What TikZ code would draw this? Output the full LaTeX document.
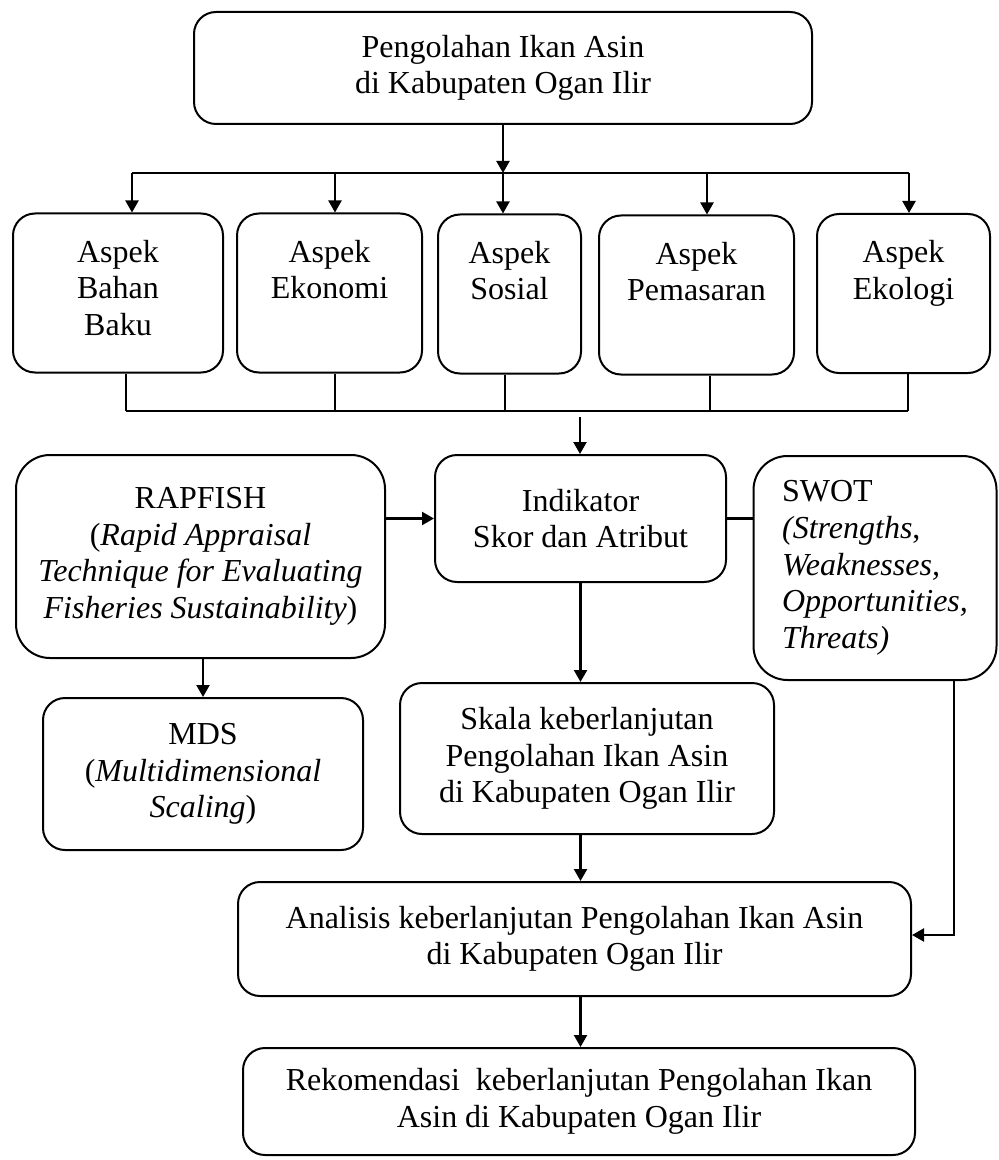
\documentclass[tikz,border=0pt]{standalone}
\usepackage{fontspec}
\setmainfont{Liberation Serif}
\usetikzlibrary{arrows.meta}

\begin{document}
\begin{tikzpicture}[x=0.5pt,y=-0.5pt,->,>={Triangle[length=6pt,width=6.5pt]},
                    line width=1.1pt]

  \tikzstyle{box} = [draw, line width=1pt, rounded corners=11pt, align=center,
                     inner sep=4pt, font=\fontsize{16}{18.3}\selectfont]
  \tikzstyle{aspek} = [box, minimum height=79.5pt]

  \useasboundingbox (0,0) rectangle (998,1160);

  \node[box, minimum width=309pt, minimum height=56pt] (A) at (503,68)
       {Pengolahan Ikan Asin\\di Kabupaten Ogan Ilir};
  \node[aspek, minimum width=105pt]  (B1) at (118,293)   {Aspek\\Bahan\\Baku\strut};
  \node[aspek, minimum width=92.5pt] (B2) at (329.5,293) {Aspek\\Ekonomi\\\strut};
  \node[aspek, minimum width=71.5pt] (B3) at (509.5,294) {Aspek\\Sosial\\\strut};
  \node[aspek, minimum width=97.5pt] (B4) at (696.5,295) {Aspek\\Pemasaran\\\strut};
  \node[aspek, minimum width=86.5pt] (B5) at (903.5,293.5) {Aspek\\Ekologi\\\strut};
  \node[box, minimum width=145.5pt, minimum height=63.5pt] (C) at (580.5,518.5)
       {Indikator\\Skor dan Atribut};
  \node[box, rounded corners=17pt, minimum width=184.5pt, minimum height=101.5pt] (D) at (200.5,556.5)
       {RAPFISH\\(\textit{Rapid Appraisal}\\\textit{Technique for Evaluating}\\\textit{Fisheries Sustainability})};
  \node[box, rounded corners=17pt, align=left, minimum width=121.5pt, minimum height=112pt] (E) at (875,568)
       {SWOT\\\textit{(Strengths},\\\textit{Weaknesses,}\\\textit{Opportunities,}\\\textit{Threats)}};
  \node[box, minimum width=160pt, minimum height=76pt] (F) at (203,774)
       {MDS\\(\textit{Multidimensional}\\\textit{Scaling})};
  \node[box, minimum width=187pt, minimum height=75.5pt] (G) at (587,758.5)
       {Skala keberlanjutan\\Pengolahan Ikan Asin\\di Kabupaten Ogan Ilir};
  \node[box, minimum width=336.5pt, minimum height=57pt] (H) at (574.5,939)
       {Analisis keberlanjutan Pengolahan Ikan Asin\\di Kabupaten Ogan Ilir};
  \node[box, minimum width=336pt, minimum height=53.5pt] (I) at (579,1101.5)
       {Rekomendasi\ \ keberlanjutan Pengolahan Ikan\\Asin di Kabupaten Ogan Ilir};

  % branch points
  \coordinate (s1) at (132,173);
  \coordinate (s2) at (335,173);
  \coordinate (s3) at (503,173);
  \coordinate (s4) at (707,173);
  \coordinate (s5) at (909,173);
  \coordinate (t1) at (126,411);
  \coordinate (t2) at (335,411);
  \coordinate (t3) at (505,411);
  \coordinate (t4) at (710,411);
  \coordinate (t5) at (908,411);
  \coordinate (m)  at (580,417);
  \coordinate (k)  at (954,935);

  \path (A) edge (s3);
  \draw[-] (s1) -- (s5);
  \path (s1) edge (s1 |- B1.north)
        (s2) edge (s2 |- B2.north)
        (s3) edge (s3 |- B3.north)
        (s4) edge (s4 |- B4.north)
        (s5) edge (s5 |- B5.north);
  \path[-] (t1 |- B1.south) edge (t1)
           (t2 |- B2.south) edge (t2)
           (t3 |- B3.south) edge (t3)
           (t4 |- B4.south) edge (t4)
           (t5 |- B5.south) edge (t5);
  \draw[-] (t1) -- (t5);

  \path (m) edge (m |- C.north)
        (D.east |- C.west) edge (C.west)
        (D.south -| F.north) edge (F.north)
        (C.south) edge (C.south |- G.north)
        (C.south |- G.south) edge (C.south |- H.north)
        (C.south |- H.south) edge (C.south |- I.north);
  \path[-] (C.east) edge (C.east -| E.west);
  \draw (k |- E.south) -- (k) -- (k -| H.east);

\end{tikzpicture}
\end{document}
